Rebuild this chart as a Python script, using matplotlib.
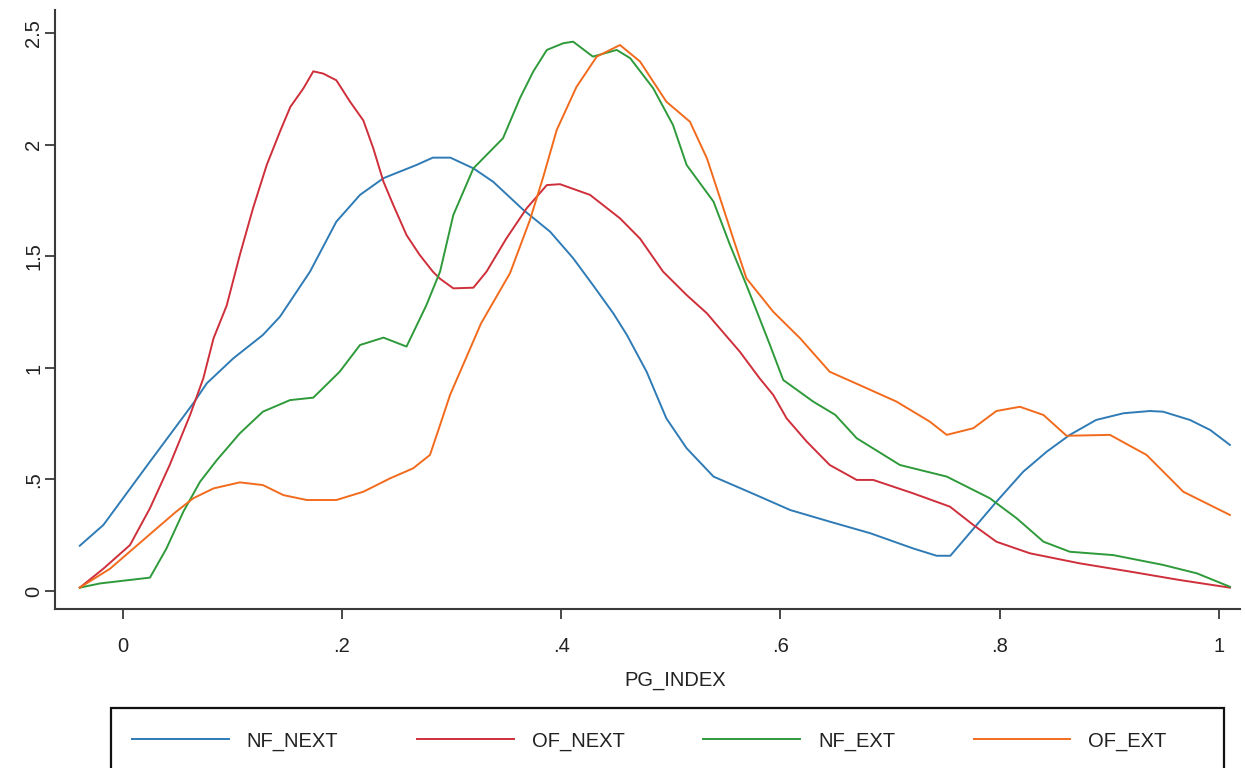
import matplotlib
matplotlib.use("Agg")
import matplotlib.pyplot as plt
from matplotlib.patches import Rectangle

plt.rcParams['font.family'] = ['Liberation Sans', 'DejaVu Sans']

# ---- data (kernel density estimates) ----
nf_next_x = [-0.039, -0.0175, 0.025, 0.0646, 0.0768, 0.101, 0.128, 0.1436, 0.171, 0.195,
             0.2166, 0.238, 0.268, 0.283, 0.299, 0.32, 0.338, 0.3655, 0.39, 0.411,
             0.429, 0.4476, 0.46, 0.478, 0.496, 0.5145, 0.539, 0.578, 0.609, 0.645,
             0.682, 0.721, 0.7425, 0.755, 0.779, 0.797, 0.8215, 0.843, 0.864, 0.888,
             0.913, 0.937, 0.949, 0.9735, 0.992, 1.01]
nf_next_y = [0.203, 0.296, 0.58, 0.842, 0.931, 1.043, 1.148, 1.23, 1.432, 1.656,
             1.776, 1.851, 1.91, 1.943, 1.943, 1.895, 1.835, 1.709, 1.611, 1.492,
             1.372, 1.245, 1.148, 0.983, 0.774, 0.64, 0.513, 0.43, 0.363, 0.311,
             0.259, 0.191, 0.158, 0.158, 0.296, 0.40, 0.535, 0.625, 0.70, 0.767,
             0.797, 0.807, 0.804, 0.767, 0.722, 0.655]

of_next_x = [-0.039, -0.0175, 0.0068, 0.025, 0.043, 0.0616, 0.0737, 0.083, 0.095, 0.107,
             0.119, 0.1315, 0.1436, 0.153, 0.165, 0.174, 0.183, 0.195, 0.2075, 0.2196,
             0.2287, 0.238, 0.247, 0.259, 0.271, 0.283, 0.2896, 0.3017, 0.32, 0.332,
             0.35, 0.3686, 0.387, 0.399, 0.4264, 0.4537, 0.472, 0.493, 0.5145, 0.533,
             0.542, 0.563, 0.581, 0.5935, 0.6057, 0.624, 0.645, 0.6696, 0.6847, 0.721,
             0.7547, 0.776, 0.797, 0.8276, 0.873, 0.919, 0.9645, 1.01]
of_next_y = [0.015, 0.10, 0.206, 0.371, 0.565, 0.789, 0.954, 1.133, 1.28, 1.507,
             1.716, 1.91, 2.06, 2.17, 2.254, 2.33, 2.32, 2.29, 2.194, 2.11,
             1.985, 1.835, 1.73, 1.596, 1.507, 1.432, 1.40, 1.357, 1.36, 1.432,
             1.58, 1.716, 1.82, 1.824, 1.776, 1.671, 1.58, 1.432, 1.327, 1.245,
             1.193, 1.073, 0.954, 0.879, 0.774, 0.67, 0.565, 0.498, 0.498, 0.438,
             0.378, 0.296, 0.221, 0.169, 0.124, 0.087, 0.049, 0.015]

nf_ext_x = [-0.039, -0.0205, 0.025, 0.04, 0.0555, 0.0707, 0.086, 0.107, 0.128, 0.1528,
            0.174, 0.198, 0.2166, 0.238, 0.259, 0.277, 0.2896, 0.3017, 0.32, 0.347,
            0.3625, 0.3747, 0.387, 0.402, 0.411, 0.429, 0.4507, 0.463, 0.484, 0.502,
            0.5145, 0.539, 0.554, 0.569, 0.578, 0.5905, 0.6026, 0.63, 0.65, 0.6696,
            0.709, 0.7517, 0.791, 0.8155, 0.84, 0.864, 0.9036, 0.949, 0.98, 1.01]
nf_ext_y = [0.015, 0.034, 0.06, 0.19, 0.356, 0.49, 0.587, 0.707, 0.804, 0.856,
            0.867, 0.983, 1.103, 1.136, 1.096, 1.28, 1.432, 1.686, 1.895, 2.03,
            2.21, 2.33, 2.426, 2.456, 2.463, 2.396, 2.426, 2.389, 2.254, 2.09,
            1.91, 1.746, 1.552, 1.372, 1.26, 1.103, 0.946, 0.849, 0.79, 0.685,
            0.565, 0.513, 0.416, 0.326, 0.221, 0.176, 0.161, 0.117, 0.079, 0.019]

of_ext_x = [-0.039, -0.0114, 0.0098, 0.031, 0.049, 0.0646, 0.083, 0.107, 0.128, 0.1467,
            0.168, 0.195, 0.2196, 0.244, 0.265, 0.2804, 0.2896, 0.2987, 0.327, 0.3534,
            0.3716, 0.3838, 0.396, 0.414, 0.4325, 0.4537, 0.472, 0.496, 0.5175, 0.533,
            0.545, 0.557, 0.569, 0.5935, 0.618, 0.645, 0.6756, 0.706, 0.7364, 0.7517,
            0.776, 0.797, 0.8185, 0.84, 0.861, 0.9006, 0.934, 0.9675, 1.01]
of_ext_y = [0.015, 0.10, 0.19, 0.28, 0.356, 0.416, 0.46, 0.487, 0.475, 0.43,
            0.408, 0.408, 0.445, 0.505, 0.55, 0.61, 0.744, 0.879, 1.20, 1.425,
            1.664, 1.858, 2.067, 2.26, 2.396, 2.448, 2.374, 2.194, 2.104, 1.94,
            1.761, 1.58, 1.402, 1.252, 1.133, 0.983, 0.916, 0.849, 0.759, 0.70,
            0.73, 0.807, 0.826, 0.789, 0.696, 0.70, 0.61, 0.445, 0.341]

series_names = ["NF_NEXT", "OF_NEXT", "NF_EXT", "OF_EXT"]
series_colors = ["#2f7bb6", "#cf2f3a", "#2e9a3a", "#f26b1d"]

x_ticks = [0, 0.2, 0.4, 0.6, 0.8, 1.0]
x_tick_labels = ["0", ".2", ".4", ".6", ".8", "1"]
y_ticks = [0, 0.5, 1.0, 1.5, 2.0, 2.5]
y_tick_labels = ["0", ".5", "1", "1.5", "2", "2.5"]
x_label = "PG_INDEX"

FS = 14.5

# ---- figure ----
W, H = 1245, 768
fig = plt.figure(figsize=(W / 100, H / 100), dpi=100, facecolor="white")
ax = fig.add_axes([55 / W, 1 - 609 / H, 1185 / W, 599 / H])

xs = [nf_next_x, of_next_x, nf_ext_x, of_ext_x]
ys = [nf_next_y, of_next_y, nf_ext_y, of_ext_y]
handles = []
for x, y, name, c in zip(xs, ys, series_names, series_colors):
    h, = ax.plot(x, y, color=c, lw=1.4, label=name)
    handles.append(h)

ax.set_xlim(-0.0616, 1.0192)
ax.set_ylim(-0.0807, 2.605)

for s in ["top", "right"]:
    ax.spines[s].set_visible(False)
for s in ["left", "bottom"]:
    ax.spines[s].set_color("#3a3a3a")
    ax.spines[s].set_linewidth(1.5)

ax.set_xticks(x_ticks)
ax.set_xticklabels(x_tick_labels)
ax.set_yticks(y_ticks)
ax.set_yticklabels(y_tick_labels)
ax.tick_params(axis="both", direction="out", length=7.5, width=1.3, color="#3a3a3a",
               labelsize=FS, labelcolor="#222222")
ax.tick_params(axis="x", pad=13)
ax.tick_params(axis="y", pad=1, labelrotation=90)
for lab in ax.get_yticklabels():
    lab.set_va("center")

ax.set_xlabel(x_label, fontsize=FS, color="#222222")
ax.xaxis.set_label_coords((675 - 55) / 1185, (609 - 680) / 599)
ax.xaxis.label.set_va("center")

# legend frame (bottom runs off the figure as in the reference)
frame = Rectangle((111 / W, -0.05), (1224 - 111) / W, (768 - 708) / H + 0.05,
                  transform=fig.transFigure, fill=False, edgecolor="#111111", lw=1.6)
fig.add_artist(frame)

fig.legend(handles=handles, labels=series_names, ncol=4, frameon=False,
           loc="center left", bbox_to_anchor=(132 / W, 1 - 741 / H),
           borderpad=0, borderaxespad=0, handlelength=4.8, handletextpad=0.9,
           columnspacing=3.9, fontsize=FS, labelcolor="#222222")

fig.savefig("out.png", dpi=100, facecolor="white")
